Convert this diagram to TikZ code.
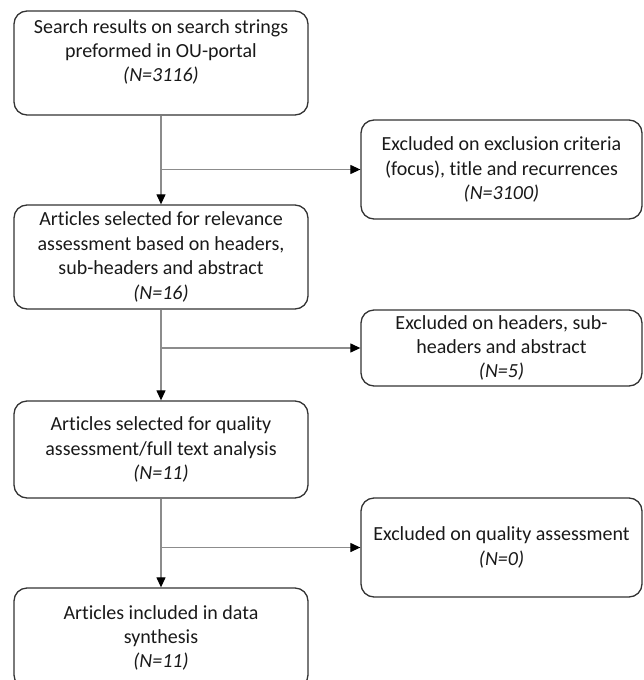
\documentclass[tikz,border=0pt]{standalone}
\usepackage{fontspec}
\setmainfont{Carlito}[Ligatures=NoCommon]
\usetikzlibrary{shapes,arrows.meta,positioning}
\definecolor{linegray}{HTML}{8C8C8C}
\definecolor{boxline}{HTML}{333333}
\newcommand{\nval}[1]{\textit{(N=#1)}}
\tikzstyle{etapa} = [draw=boxline, line width=1.3pt, rectangle, rounded corners=13pt, align=center, inner sep=0pt, text=black!90]
\tikzstyle{flujo} = [draw=linegray, line width=1.2pt, -{Triangle[length=10pt,width=9pt,fill=black,color=black]}]
\begin{document}
\begin{tikzpicture}[x=1pt,y=-1pt,font=\fontsize{20}{24.4}\selectfont]
						\clip (0,0) rectangle (643,680);
						\node [etapa, minimum width=294pt, minimum height=104pt, text depth=25pt] (busqueda) at (161,63) {Search results on search strings\\preformed in OU-portal\\\nval{3116}};
						\node [etapa, minimum width=281pt, minimum height=99pt] (excl1) at (501.5,169.5) {Excluded on exclusion criteria\\(focus), title and recurrences\\\nval{3100}};
						\node [etapa, minimum width=294pt, minimum height=104pt] (relevancia) at (161,257) {Articles selected for relevance\\assessment based on headers,\\sub-headers and abstract\\\nval{16}};
						\node [etapa, minimum width=281pt, minimum height=76pt] (excl2) at (501.5,348) {Excluded on headers, sub-\\headers and abstract\\\nval{5}};
						\node [etapa, minimum width=294pt, minimum height=97pt] (calidad) at (161,449.5) {Articles selected for quality\\assessment/full text analysis\\\nval{11}};
						\node [etapa, minimum width=281pt, minimum height=99pt] (excl3) at (501.5,547.5) {Excluded on quality assessment\\\nval{0}};
						\node [etapa, minimum width=294pt, minimum height=100pt] (sintesis) at (161,638) {Articles included in data\\synthesis\\\nval{11}};
						\draw [flujo] (busqueda) -- (relevancia);
						\draw [flujo] (busqueda.south |- excl1.west) -- (excl1);
						\draw [flujo] (relevancia) -- (calidad);
						\draw [flujo] (relevancia.south |- excl2.west) -- (excl2);
						\draw [flujo] (calidad) -- (sintesis);
						\draw [flujo] (calidad.south |- excl3.west) -- (excl3);
					\end{tikzpicture}
\end{document}
